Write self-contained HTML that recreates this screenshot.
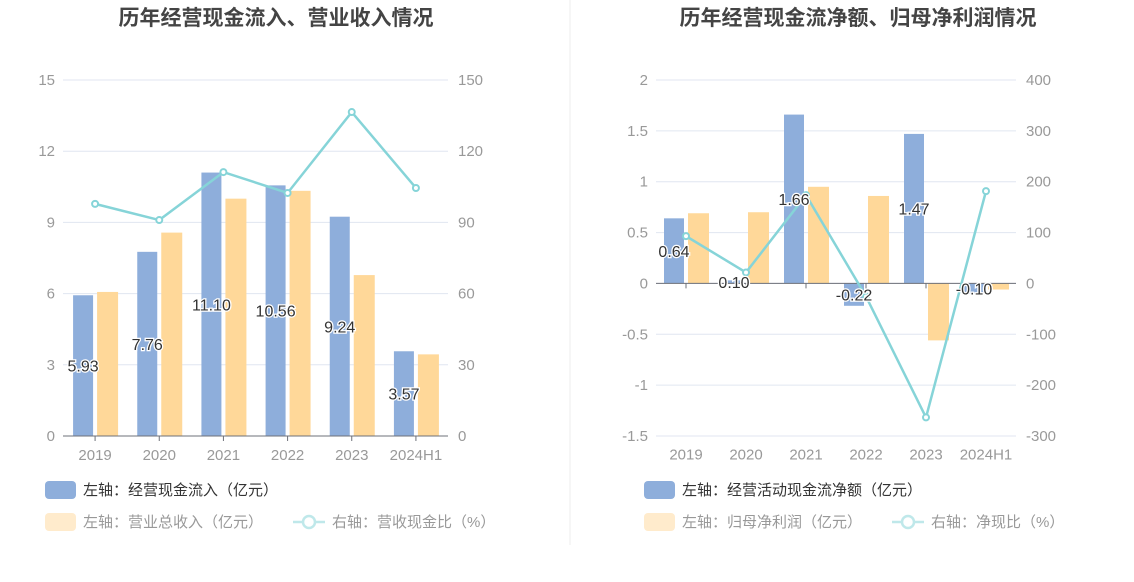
<!DOCTYPE html>
<html><head><meta charset="utf-8"><style>
body{margin:0;background:#fff;width:1134px;height:582px;overflow:hidden;font-family:"Liberation Sans","Noto Sans CJK SC",sans-serif;}
svg{position:absolute;left:0;top:0}
</style></head><body>
<svg id="s" width="1134" height="582" font-family="Liberation Sans, Noto Sans CJK SC, sans-serif"></svg>
<script>
const categories=["2019","2020","2021","2022","2023","2024H1"];
const leftCashIn=[5.93,7.76,11.10,10.56,9.24,3.57];
const leftRevenue=[6.07,8.57,10.0,10.33,6.78,3.44];
const leftRatio=[97.8,91,111.2,102.4,136.5,104.5];
const leftTicksL=[0,3,6,9,12,15];
const leftTicksR=[0,30,60,90,120,150];
const rightNetCash=[0.64,0.03,1.66,-0.22,1.47,-0.10];
const rightNetCashLabels=["0.64","0.10","1.66","-0.22","1.47","-0.10"];
const rightProfit=[0.69,0.70,0.95,0.86,-0.56,-0.06];
const rightRatio=[93,21.6,173.6,-25.6,-263.5,181.5];
const rightTicksL=[-1.5,-1,-0.5,0,0.5,1,1.5,2];
const rightTicksR=[-300,-200,-100,0,100,200,300,400];

const S=document.getElementById('s');const NS='http://www.w3.org/2000/svg';
function el(t,a,p){const e=document.createElementNS(NS,t);for(const k in a)e.setAttribute(k,a[k]);(p||S).appendChild(e);return e;}
function txt(x,y,s,a,p){const e=el('text',Object.assign({x:x,y:y},a),p);e.textContent=s;return e;}

function chart(o){
  const g=el('g',{});
  
  
  const x0=o.x0,x1=o.x1,bw=(x1-x0)/categories.length;
  const yL=v=>o.yTop+(o.lMax-v)/(o.lMax-o.lMin)*(o.yBot-o.yTop);
  const yR=v=>o.yTop+(o.rMax-v)/(o.rMax-o.rMin)*(o.yBot-o.yTop);
  const cx=i=>x0+bw*(i+0.5);
  o.ticksL.forEach((t,i)=>{
    const y=yL(t);
    const gl=el('line',{x1:x0,x2:x1,y1:y,y2:y,stroke:'#e0e6f1'},g);
    
    const a=txt(x0-8,y+5,String(t),{'text-anchor':'end','font-size':15,fill:'#999'},g);
    
    const b=txt(x1+10,y+5,String(o.ticksR[i]),{'font-size':15,fill:'#999'},g);
    
  });
  const y0=yL(0);
  categories.forEach((c,i)=>{
    const v1=o.s1[i],v2=o.s2[i];
    const r1=el('rect',{x:cx(i)-22,y:Math.min(yL(v1),y0),width:20,height:Math.abs(yL(v1)-y0),fill:'#8eaedb'},g);
    
    const r2=el('rect',{x:cx(i)+2,y:Math.min(yL(v2),y0),width:21,height:Math.abs(yL(v2)-y0),fill:'#ffd899'},g);
    
    const xl=txt(cx(i),y0+o.xLabelOff,c,{'text-anchor':'middle','font-size':15,fill:'#999'},g);
    
    const tk=el('line',{x1:cx(i),x2:cx(i),y1:y0,y2:y0+5,stroke:'#6e7079'},g);
    
  });
  const ax=el('line',{x1:x0,x2:x1,y1:y0,y2:y0,stroke:'#6e7079'},g);
  
  const pts=o.line.map((v,i)=>cx(i)+','+yR(v)).join(' ');
  const pl=el('polyline',{points:pts,fill:'none',stroke:'#86d4d8','stroke-width':2.5},g);
  
  o.line.forEach((v,i)=>{
    const c=el('circle',{cx:cx(i),cy:yR(v),r:3,fill:'#fff',stroke:'#86d4d8','stroke-width':2},g);
    
  });
  categories.forEach((c,i)=>{
    const v=o.s1[i];const ym=(yL(v)+y0)/2;
    const l=txt(cx(i)-12,ym+6,o.labels[i],{'text-anchor':'middle','font-size':16,fill:'#333',stroke:'#fff','stroke-width':2.5,'paint-order':'stroke'},g);
    
  });
}
chart({name:'left-chart',x0:63,x1:448,yTop:80,yBot:436,lMin:0,lMax:15,rMin:0,rMax:150,ticksL:leftTicksL,ticksR:leftTicksR,s1:leftCashIn,s2:leftRevenue,line:leftRatio,labels:leftCashIn.map(v=>v.toFixed(2)),s1name:'cash-inflow',s2name:'revenue',xLabelOff:24});
chart({name:'right-chart',x0:656,x1:1016,yTop:80,yBot:436,lMin:-1.5,lMax:2,rMin:-300,rMax:400,ticksL:rightTicksL,ticksR:rightTicksR,s1:rightNetCash,s2:rightProfit,line:rightRatio,labels:rightNetCashLabels,s1name:'net-cash',s2name:'net-profit',xLabelOff:176});

const t1=txt(276,25,'历年经营现金流入、营业收入情况',{'text-anchor':'middle','font-size':21,'font-weight':'bold',fill:'#444'});

const t2=txt(858,25,'历年经营现金流净额、归母净利润情况',{'text-anchor':'middle','font-size':21,'font-weight':'bold',fill:'#444'});

const dv=el('line',{x1:570,x2:570,y1:0,y2:545,stroke:'#eee'});


function legRect(x,y,color,label,tc,name){
  const r=el('rect',{x:x,y:y-9,width:31,height:18,rx:4,fill:color});
  
  const t=txt(x+38,y+5,label,{'font-size':15,fill:tc});
  
}
function legLine(x,y,label,name){
  const l=el('line',{x1:x,x2:x+32,y1:y,y2:y,stroke:'#bfe8ea','stroke-width':2.5});
  
  const c=el('circle',{cx:x+16,cy:y,r:6,fill:'#fff',stroke:'#bfe8ea','stroke-width':2.5});
  
  const t=txt(x+39,y+5,label,{'font-size':15,fill:'#999'});
  
}
legRect(45,490,'#8eaedb','左轴：经营现金流入（亿元）','#333','legend-cash-inflow');
legRect(45,522,'#ffebcc','左轴：营业总收入（亿元）','#999','legend-revenue');
legLine(293,522,'右轴：营收现金比（%）','legend-revenue-cash-ratio');
legRect(644,490,'#8eaedb','左轴：经营活动现金流净额（亿元）','#333','legend-net-cash');
legRect(644,522,'#ffebcc','左轴：归母净利润（亿元）','#999','legend-net-profit');
legLine(892,522,'右轴：净现比（%）','legend-net-cash-ratio');
</script>
</body></html>
